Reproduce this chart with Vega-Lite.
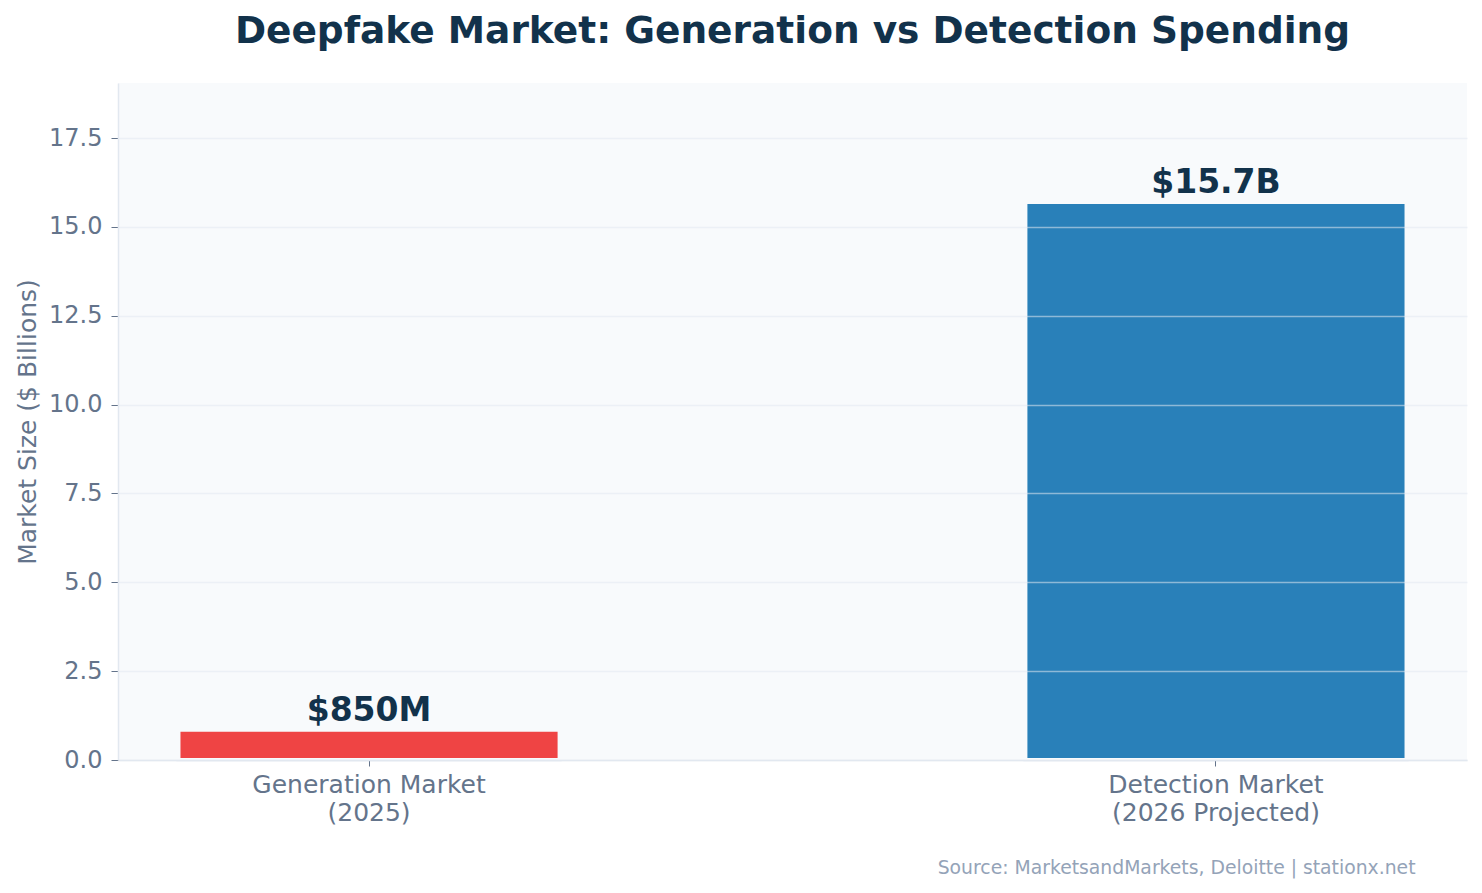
{
  "$schema": "https://vega.github.io/schema/vega-lite/v6.json",
  "autosize": "none",
  "width": 1349,
  "height": 677,
  "padding": {"left": 118, "top": 83, "right": 15, "bottom": 133},
  "background": "#ffffff",
  "title": {
    "text": "Deepfake Market: Generation vs Detection Spending",
    "font": "DejaVu Sans",
    "fontSize": 37.5,
    "fontWeight": "bold",
    "color": "#12324b",
    "anchor": "middle",
    "baseline": "alphabetic",
    "offset": 3
  },
  "config": {
    "font": "DejaVu Sans",
    "view": {"fill": "#f8fafc", "stroke": null},
    "axis": {
      "domainColor": "#e2e8f0",
      "domainWidth": 1.5,
      "tickColor": "#64748b",
      "tickWidth": 1,
      "labelColor": "#64748b",
      "labelFont": "DejaVu Sans",
      "titleFont": "DejaVu Sans",
      "gridColor": "#e2e8f0",
      "gridOpacity": 0.55,
      "gridWidth": 1.6
    }
  },
  "data": {
    "values": [
      {"market": "Generation Market|(2025)", "value": 0.85, "label": "$850M", "group": "Generation"},
      {"market": "Detection Market|(2026 Projected)", "value": 15.7, "label": "$15.7B", "group": "Detection"}
    ]
  },
  "encoding": {
    "x": {
      "field": "market",
      "type": "nominal",
      "sort": null,
      "scale": {"paddingInner": 0.55, "paddingOuter": 0.0714},
      "axis": {
        "zindex": 1,
        "title": "Source: MarketsandMarkets, Deloitte | stationx.net",
        "titleColor": "#94a3b8",
        "titleFontSize": 18.8,
        "titleFontWeight": "normal",
        "titleAlign": "right",
        "titleAnchor": null,
        "titleX": 1297,
        "titleY": 113,
        "titleBaseline": "alphabetic",
        "labelAngle": 0,
        "labelFontSize": 25,
        "labelLineHeight": 28,
        "labelLimit": 500,
        "labelExpr": "split(datum.label, '|')",
        "labelPadding": 6,
        "tickSize": 6,
        "grid": false
      }
    },
    "y": {
      "field": "value",
      "type": "quantitative",
      "scale": {"domain": [0, 19.05], "nice": false, "zero": true},
      "axis": {
        "zindex": 1,
        "title": "Market Size ($ Billions)",
        "titleColor": "#64748b",
        "titleFontSize": 25,
        "titleFontWeight": "normal",
        "titleX": -91,
        "titleY": 338.5,
        "titleAngle": -90,
        "titleAlign": "center",
        "titleBaseline": "middle",
        "values": [0, 2.5, 5, 7.5, 10, 12.5, 15, 17.5],
        "format": ".1f",
        "labelFontSize": 24,
        "labelPadding": 9,
        "tickSize": 7,
        "grid": true
      }
    }
  },
  "layer": [
    {
      "mark": {"type": "bar", "stroke": "#f8fafc", "strokeWidth": 4},
      "encoding": {
        "color": {
          "field": "group",
          "type": "nominal",
          "scale": {"domain": ["Generation", "Detection"], "range": ["#ef4444", "#2980b9"]},
          "legend": null
        }
      }
    },
    {
      "mark": {
        "type": "text",
        "baseline": "alphabetic",
        "align": "center",
        "dy": -9,
        "fontSize": 33,
        "fontWeight": "bold",
        "color": "#12324b"
      },
      "encoding": {
        "text": {"field": "label", "type": "nominal"}
      }
    }
  ]
}
